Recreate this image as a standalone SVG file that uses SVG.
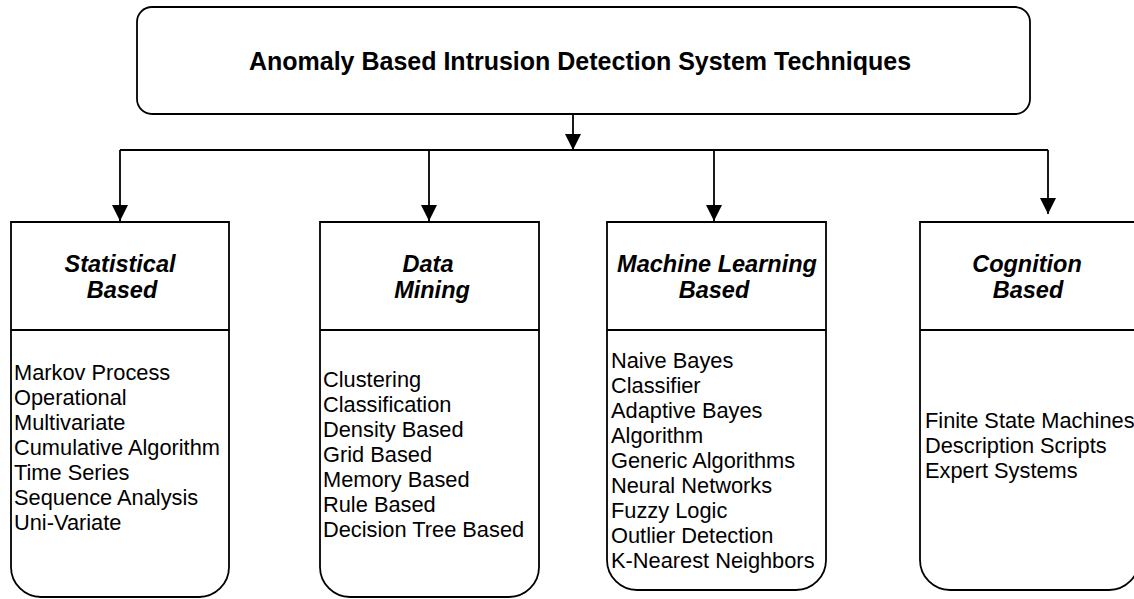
<svg xmlns="http://www.w3.org/2000/svg" width="1134" height="599" viewBox="0 0 1134 599">
<style>
.box{fill:#fff;stroke:#000;stroke-width:1.8}
.ln{fill:none;stroke:#000;stroke-width:1.8}
.title{font-family:"Liberation Sans",Arial,sans-serif;font-weight:bold;font-size:25px;fill:#000}
.hd{font-family:"Liberation Sans",Arial,sans-serif;font-weight:bold;font-style:italic;font-size:23.5px;fill:#000}
.bd{font-family:"Liberation Sans",Arial,sans-serif;font-size:21.8px;fill:#000}
</style>
<defs>
<marker id="arr" markerUnits="userSpaceOnUse" markerWidth="18" markerHeight="18" viewBox="0 0 18 18" refX="16" refY="9" orient="auto">
<path d="M0,1 L16,9 L0,17 Z" fill="#000"/>
</marker>
</defs>
<rect width="1134" height="599" fill="#fff"/>
<g id="root">
<rect class="box" x="137" y="7" width="893" height="107" rx="15" ry="15"/>
<text class="title" x="580" y="70" text-anchor="middle">Anomaly Based Intrusion Detection System Techniques</text>
</g>
<g id="connectors">
<line class="ln" x1="573" y1="114" x2="573" y2="150" marker-end="url(#arr)"/>
<line class="ln" x1="120" y1="150" x2="1048" y2="150"/>
<line class="ln" x1="120" y1="150" x2="120" y2="221" marker-end="url(#arr)"/>
<line class="ln" x1="429" y1="150" x2="429" y2="221" marker-end="url(#arr)"/>
<line class="ln" x1="714" y1="150" x2="714" y2="221" marker-end="url(#arr)"/>
<line class="ln" x1="1048" y1="150" x2="1048" y2="214" marker-end="url(#arr)"/>
</g>
<g id="statistical">
<path class="box" d="M11,222 H229 V567 A30,30 0 0 1 199,597 H41 A30,30 0 0 1 11,567 Z"/>
<line class="ln" x1="11" y1="330" x2="229" y2="330"/>
<text class="hd" x="120" y="272" text-anchor="middle">Statistical</text>
<text class="hd" x="122" y="298" text-anchor="middle">Based</text>
<text class="bd" x="14" y="380">Markov Process</text>
<text class="bd" x="14" y="405">Operational</text>
<text class="bd" x="14" y="430">Multivariate</text>
<text class="bd" x="14" y="455">Cumulative Algorithm</text>
<text class="bd" x="14" y="480">Time Series</text>
<text class="bd" x="14" y="505">Sequence Analysis</text>
<text class="bd" x="14" y="530">Uni-Variate</text>
</g>
<g id="datamining">
<path class="box" d="M320,222 H539 V567 A30,30 0 0 1 509,597 H350 A30,30 0 0 1 320,567 Z"/>
<line class="ln" x1="320" y1="330" x2="539" y2="330"/>
<text class="hd" x="428" y="272" text-anchor="middle">Data</text>
<text class="hd" x="432" y="298" text-anchor="middle">Mining</text>
<text class="bd" x="323" y="387">Clustering</text>
<text class="bd" x="323" y="412">Classification</text>
<text class="bd" x="323" y="437">Density Based</text>
<text class="bd" x="323" y="462">Grid Based</text>
<text class="bd" x="323" y="487">Memory Based</text>
<text class="bd" x="323" y="512">Rule Based</text>
<text class="bd" x="323" y="537">Decision Tree Based</text>
</g>
<g id="ml">
<path class="box" d="M607,222 H826 V560 A30,30 0 0 1 796,590 H637 A30,30 0 0 1 607,560 Z"/>
<line class="ln" x1="607" y1="330" x2="826" y2="330"/>
<text class="hd" x="717" y="272" text-anchor="middle">Machine Learning</text>
<text class="hd" x="714" y="298" text-anchor="middle">Based</text>
<text class="bd" x="611" y="368">Naive Bayes</text>
<text class="bd" x="611" y="393">Classifier</text>
<text class="bd" x="611" y="418">Adaptive Bayes</text>
<text class="bd" x="611" y="443">Algorithm</text>
<text class="bd" x="611" y="468">Generic Algorithms</text>
<text class="bd" x="611" y="493">Neural Networks</text>
<text class="bd" x="611" y="518">Fuzzy Logic</text>
<text class="bd" x="611" y="543">Outlier Detection</text>
<text class="bd" x="611" y="568">K-Nearest Neighbors</text>
</g>
<g id="cognition">
<path class="box" d="M920,222 H1139 V560 A30,30 0 0 1 1109,590 H950 A30,30 0 0 1 920,560 Z"/>
<line class="ln" x1="920" y1="330" x2="1139" y2="330"/>
<text class="hd" x="1027" y="272" text-anchor="middle">Cognition</text>
<text class="hd" x="1028" y="298" text-anchor="middle">Based</text>
<text class="bd" x="925" y="428">Finite State Machines</text>
<text class="bd" x="925" y="453">Description Scripts</text>
<text class="bd" x="925" y="478">Expert Systems</text>
</g>
</svg>
